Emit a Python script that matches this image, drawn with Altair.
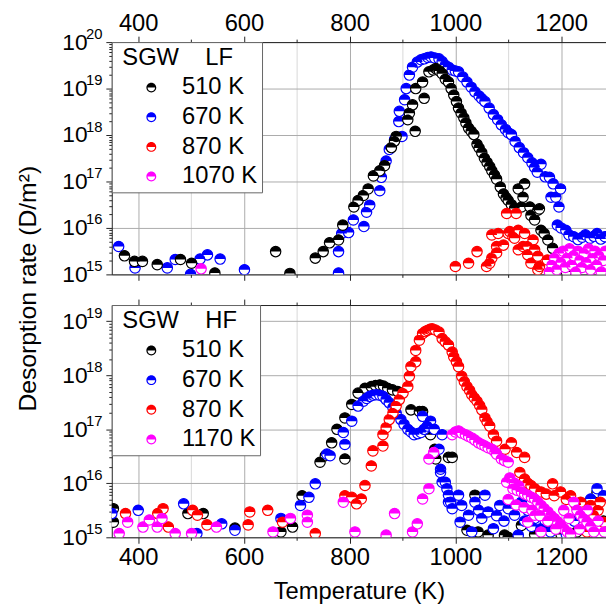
import altair as alt
import pandas as pd

FONT = "Liberation Sans"

# ---- data: (temperature K, log10 desorption rate D/m^2) ----
TOP_NAMES = ["510 K", "670 K", "870 K", "1070 K"]
BOT_NAMES = ["510 K", "670 K", "870 K", "1170 K"]
COLORS = ["#000000", "#0000ff", "#ff0000", "#ff00ff"]

LF_510 = [(374, 15.40), (393, 15.28), (408, 15.28), (436, 15.21), (480, 15.32), (501, 15.24), (545, 15.03),
          (660, 15.49), (687, 15.02), (735, 15.35), (750, 15.49), (762, 15.68), (779, 15.74), (787, 16.06),
          (808, 16.45), (816, 16.59), (826, 16.70), (835, 16.84), (845, 17.12), (857, 17.23), (866, 17.34),
          (879, 17.73), (885, 17.87), (888, 17.97), (910, 18.33), (913, 18.47), (919, 18.65), (924, 18.08),
          (925, 19.00), (938, 19.14), (941, 18.79), (950, 19.36), (958, 19.40), (963, 19.43), (970, 19.38),
          (975, 19.32), (981, 19.20), (987, 19.14), (992, 19.00), (997, 18.86), (1002, 18.72), (1006, 18.58),
          (1011, 18.47), (1016, 18.37), (1020, 18.26), (1025, 18.15), (1030, 18.08), (1035, 18.01),
          (1041, 17.80), (1045, 17.72), (1050, 17.62), (1055, 17.50), (1060, 17.41), (1065, 17.32),
          (1069, 17.23), (1074, 17.14), (1078, 17.05), (1085, 16.88), (1091, 16.73), (1096, 16.65),
          (1100, 16.59), (1106, 16.50), (1112, 16.42), (1119, 16.84), (1125, 16.45), (1128, 16.66),
          (1131, 16.95), (1141, 16.45), (1143, 16.27), (1150, 16.17), (1156, 16.38), (1159, 16.41),
          (1162, 15.95), (1168, 15.88), (1175, 15.74), (1184, 15.56), (1193, 15.39), (1200, 15.20),
          (1210, 15.05)]

LF_670 = [(363, 15.60), (394, 15.14), (455, 15.14), (470, 15.32), (499, 15.00), (517, 15.33), (531, 15.42),
          (555, 15.33), (601, 15.10), (779, 15.03), (779, 15.49), (785, 15.88), (798, 15.90), (807, 16.17),
          (827, 16.03), (832, 16.34), (838, 16.49), (857, 16.80), (860, 17.09), (869, 17.44), (875, 17.69),
          (885, 17.90), (899, 17.97), (893, 18.29), (894, 18.51), (904, 18.76), (907, 19.00), (913, 19.29),
          (919, 19.46), (928, 19.57), (935, 19.62), (941, 19.64), (948, 19.67), (954, 19.68), (961, 19.66),
          (969, 19.64), (975, 19.58), (981, 19.50), (987, 19.46), (994, 19.40), (1000, 19.38), (1006, 19.36),
          (1014, 19.25), (1022, 19.14), (1030, 19.03), (1037, 18.93), (1045, 18.84), (1050, 18.78),
          (1056, 18.72), (1064, 18.58), (1072, 18.44), (1080, 18.33), (1087, 18.22), (1095, 18.12),
          (1100, 18.05), (1106, 18.01), (1113, 17.86), (1121, 17.73), (1129, 17.62), (1137, 17.51),
          (1145, 17.40), (1150, 17.30), (1155, 17.20), (1162, 17.37), (1170, 17.10), (1178, 17.09),
          (1185, 16.95), (1181, 16.66), (1190, 16.66), (1199, 16.84), (1196, 16.45), (1193, 16.06),
          (1200, 16.00), (1209, 15.95), (1215, 15.85), (1224, 15.81), (1232, 15.75), (1240, 15.80),
          (1246, 15.85), (1255, 15.78), (1262, 15.82), (1268, 15.88), (1275, 15.76), (1283, 15.81)]

LF_870 = [(1000, 15.17), (1025, 15.24), (1041, 15.49), (1059, 15.17), (1065, 15.24), (1069, 15.35),
          (1069, 15.85), (1078, 15.60), (1078, 15.46), (1081, 15.88), (1091, 15.63), (1097, 16.31),
          (1100, 15.88), (1103, 15.92), (1109, 15.81), (1112, 15.78), (1115, 16.31), (1119, 15.95),
          (1119, 15.53), (1128, 15.60), (1131, 15.88), (1137, 15.60), (1137, 15.42), (1143, 15.24),
          (1147, 15.74), (1150, 15.53), (1156, 15.39), (1156, 15.10), (1159, 15.17), (1174, 15.31)]

LF_1070 = [(519, 15.12), (1178, 15.05), (1183, 15.20), (1188, 15.35), (1192, 15.10), (1196, 15.45),
           (1200, 15.25), (1204, 15.50), (1208, 15.15), (1212, 15.35), (1216, 15.55), (1220, 15.20),
           (1224, 15.40), (1228, 15.05), (1232, 15.50), (1236, 15.30), (1240, 15.15), (1244, 15.45),
           (1248, 15.25), (1252, 15.55), (1256, 15.10), (1260, 15.35), (1264, 15.50), (1268, 15.20),
           (1272, 15.40), (1276, 15.05), (1280, 15.30), (1284, 15.50)]

HF_510 = [(353, 15.53), (353, 15.28), (494, 15.44), (523, 15.44), (583, 15.17), (670, 15.10), (692, 15.19),
          (710, 15.77), (744, 16.39), (754, 16.51), (766, 16.75), (776, 17.00), (791, 17.21), (791, 16.45),
          (804, 17.46), (816, 17.67), (829, 17.76), (841, 17.79), (849, 17.81), (857, 17.82), (864, 17.80),
          (872, 17.76), (881, 17.73), (891, 17.70), (916, 17.36), (932, 17.33), (938, 17.33), (950, 16.94),
          (953, 16.90), (961, 16.63), (963, 16.45), (987, 16.48), (994, 16.48), (1022, 15.13), (1037, 15.78),
          (1043, 15.10), (1062, 15.04), (1093, 15.04), (1100, 15.00), (1125, 15.22), (1150, 15.05),
          (1175, 15.15), (1200, 15.05), (1230, 15.10), (1268, 15.83), (1280, 15.30)]

HF_670 = [(350, 15.44), (400, 15.50), (486, 15.62), (511, 15.07), (558, 15.25), (583, 15.13), (670, 15.35),
          (707, 15.59), (723, 15.74), (735, 15.99), (757, 16.54), (763, 16.51), (788, 16.94), (791, 16.72),
          (804, 17.15), (816, 17.43), (826, 17.52), (832, 17.57), (838, 17.61), (844, 17.63), (850, 17.64),
          (857, 17.63), (863, 17.61), (869, 17.55), (875, 17.49), (882, 17.40), (888, 17.30), (897, 17.18),
          (903, 17.09), (910, 17.00), (916, 16.95), (922, 16.90), (929, 16.92), (935, 16.94), (938, 17.24),
          (941, 17.00), (947, 17.06), (953, 17.15), (960, 17.00), (969, 16.63), (972, 16.20), (972, 16.26),
          (975, 16.90), (975, 16.02), (981, 16.02), (984, 15.90), (987, 15.65), (987, 15.78), (991, 15.65),
          (994, 15.53), (1006, 15.78), (1009, 15.28), (1012, 15.59), (1025, 15.41), (1031, 15.10),
          (1037, 15.65), (1044, 15.50), (1050, 15.35), (1056, 15.78), (1062, 15.47), (1072, 15.16),
          (1078, 15.40), (1084, 15.59), (1092, 15.30), (1100, 15.53), (1112, 15.41), (1119, 15.04),
          (1125, 15.65), (1131, 15.30), (1137, 15.50), (1144, 15.20), (1150, 15.35), (1162, 15.16),
          (1170, 15.30), (1180, 15.10), (1195, 15.20), (1210, 15.05), (1225, 15.30), (1240, 15.60),
          (1256, 15.71), (1268, 15.90), (1280, 15.77)]

HF_870 = [(376, 15.44), (437, 15.44), (447, 15.53), (457, 15.19), (503, 15.50), (512, 15.41), (530, 15.23),
          (608, 15.23), (611, 15.47), (645, 15.50), (673, 15.28), (735, 15.07), (791, 15.77), (804, 15.74),
          (813, 15.62), (822, 15.71), (829, 15.96), (841, 16.32), (844, 16.60), (863, 16.69), (863, 16.90),
          (869, 17.03), (875, 17.18), (882, 17.30), (888, 17.43), (894, 17.55), (901, 17.67), (910, 17.79),
          (913, 17.98), (916, 18.16), (925, 18.25), (925, 18.46), (932, 18.65), (938, 18.77), (943, 18.81),
          (947, 18.83), (952, 18.85), (956, 18.86), (962, 18.84), (969, 18.80), (975, 18.68), (981, 18.62),
          (987, 18.56), (994, 18.43), (997, 18.34), (1002, 18.25), (1006, 18.16), (1012, 17.98),
          (1017, 17.88), (1022, 17.79), (1027, 17.72), (1031, 17.64), (1036, 17.58), (1041, 17.52),
          (1046, 17.44), (1050, 17.36), (1056, 17.21), (1060, 17.14), (1065, 17.06), (1072, 16.90),
          (1078, 16.78), (1094, 16.63), (1106, 16.75), (1116, 16.57), (1122, 16.20), (1131, 16.48),
          (1131, 16.08), (1137, 16.00), (1143, 15.96), (1150, 15.90), (1162, 15.84), (1172, 15.80),
          (1184, 15.99), (1187, 15.77), (1199, 15.84), (1210, 15.70), (1218, 15.77), (1228, 15.60),
          (1237, 15.65), (1249, 15.10), (1256, 15.59), (1262, 15.41), (1270, 15.50), (1274, 15.65),
          (1280, 15.28)]

HF_1170 = [(364, 15.07), (380, 15.28), (409, 15.19), (421, 15.32), (436, 15.19), (445, 15.35), (470, 15.07),
           (501, 15.07), (548, 15.19), (655, 15.10), (688, 15.35), (720, 15.41), (720, 15.28), (788, 15.65),
           (810, 15.10), (869, 15.04), (885, 15.44), (919, 15.10), (928, 15.25), (938, 15.71), (950, 15.90),
           (950, 16.45), (959, 16.57), (994, 16.90), (1000, 16.95), (1006, 16.97), (1012, 16.93),
           (1019, 16.90), (1025, 16.87), (1031, 16.84), (1037, 16.80), (1044, 16.75), (1050, 16.72),
           (1056, 16.69), (1062, 16.66), (1069, 16.63), (1075, 16.58), (1078, 16.54), (1087, 16.45),
           (1093, 16.42), (1100, 16.39), (1097, 16.02), (1103, 16.10), (1109, 15.90), (1112, 16.00),
           (1117, 15.87), (1120, 15.95), (1125, 15.84), (1131, 15.80), (1137, 15.78), (1137, 15.28),
           (1144, 15.74), (1150, 15.71), (1150, 15.41), (1156, 15.65), (1162, 15.59), (1162, 15.10),
           (1168, 15.53), (1175, 15.47), (1181, 15.40), (1187, 15.35), (1193, 15.29), (1199, 15.23),
           (1205, 15.16), (1212, 15.10), (1218, 15.05), (1100, 15.70), (1115, 15.60), (1130, 15.55),
           (1145, 15.50), (1160, 15.40), (1175, 15.30), (1190, 15.15), (1205, 15.50), (1215, 15.35),
           (1224, 15.65), (1230, 15.50), (1237, 15.41), (1243, 15.35), (1249, 15.28), (1256, 15.20),
           (1262, 15.10), (1235, 15.15), (1250, 15.50), (1270, 15.30), (1282, 15.10)]

TOP_DATA = [LF_510, LF_670, LF_870, LF_1070]
BOT_DATA = [HF_510, HF_670, HF_870, HF_1170]

# tick values
X_MAJOR = [400, 600, 800, 1000, 1200]
X_MINOR = [500, 700, 900, 1100]
TOP_DECADES = [1e15, 1e16, 1e17, 1e18, 1e19, 1e20]
BOT_DECADES = [1e15, 1e16, 1e17, 1e18, 1e19]

HALF = "M-1,0A1,1 0 0,1 1,0Z"
LEG_SYM = "M-1,0A1,1 0 0,1 1,0A1,1 0 0,1 -1,0L-0.76,0A0.76,0.76 0 0,0 0.76,0Z"
SIZE = 110
AX = "#222222"
GRID_MAJ = "#ababab"
GRID_MIN = "#d8d8d8"


def frame(names, data):
    rows = []
    for name, pts in zip(names, data):
        for t, l in pts:
            rows.append({"T": t, "rate": 10.0 ** l, "series": name})
    return pd.DataFrame(rows)


def minor_vals(decades):
    out = []
    for d in decades[:-1]:
        for k in range(2, 10):
            out.append(k * d)
    return out


def panel(names, data, order, ydomain, decades, legend_title, top_labels, bottom_labels, ytitle):
    df = frame(names, data)
    xscale = alt.Scale(domain=[350, 1285], nice=False, zero=False)
    yscale = alt.Scale(type="log", domain=ydomain, nice=False)
    cscale = alt.Scale(domain=names, range=COLORS)

    common = dict(labelFont=FONT, labelColor="black", labelFlush=False, labelOverlap=False,
                  titleFont=FONT, titleColor="black", titleFontWeight="normal")
    xa = [
        alt.Axis(orient="bottom", values=X_MAJOR, format="d", grid=True, gridColor=GRID_MAJ, ticks=True,
                 tickSize=6, tickColor=AX, domain=True, domainColor=AX, labels=bottom_labels,
                 labelFontSize=24, labelPadding=3,
                 title="Temperature (K)" if bottom_labels else None, titleFontSize=24,
                 titlePadding=10, **common),
        alt.Axis(orient="bottom", values=X_MINOR, grid=True, gridColor=GRID_MIN, ticks=True, tickSize=3,
                 tickColor=AX, domain=False, labels=False, title=None, **common),
        alt.Axis(orient="top", values=X_MAJOR, format="d", grid=False, ticks=True, tickSize=6,
                 tickColor=AX, domain=True, domainColor=AX, labels=top_labels, labelFontSize=24,
                 labelPadding=1, title=None, **common),
        alt.Axis(orient="top", values=X_MINOR, grid=False, ticks=True, tickSize=3, tickColor=AX,
                 domain=False, labels=False, title=None, **common),
    ]
    ya = [
        alt.Axis(orient="left", values=decades, grid=True, gridColor=GRID_MAJ, ticks=False, tickSize=0,
                 domain=True, domainColor=AX, labelExpr="'10'", labelFontSize=23, labelPadding=25,
                 labelBaseline="middle",
                 title="Desorption rate (D/m\u00b2)" if ytitle else None, titleFontSize=25,
                 titleAngle=270, titleX=-85, titleY=249, titleAlign="center", titleBaseline="middle",
                 **common),
        alt.Axis(orient="left", values=decades, grid=False, ticks=False, tickSize=0, domain=False,
                 labelExpr="'' + round(log(datum.value) / LN10)", labelFontSize=15, labelPadding=10,
                 labelOffset=-9, title=None, **common),
        alt.Axis(orient="left", values=decades, grid=False, ticks=True, tickSize=6, tickColor=AX,
                 domain=False, labels=False, title=None, **common),
        alt.Axis(orient="left", values=minor_vals(decades), grid=False, ticks=True, tickSize=3,
                 tickColor=AX, domain=False, labels=False, title=None, **common),
    ]
    legend = alt.Legend(title=legend_title, orient="top-left", offset=0, symbolType=LEG_SYM,
                        symbolSize=100, symbolStrokeWidth=0, symbolOpacity=1, symbolOffset=24,
                        labelOffset=19, labelFont=FONT, labelFontSize=24, labelColor="black",
                        titleFont=FONT, titleFontSize=24, titleFontWeight="normal", titleColor="black",
                        titlePadding=6, rowPadding=6, padding=4, strokeColor="#666666",
                        fillColor="white")

    layers = []
    for i, idx in enumerate(order):
        name, color = names[idx], COLORS[idx]
        base = alt.Chart(df[df.series == name])
        circ = base.mark_point(shape="circle", filled=False, fill="white", fillOpacity=1, stroke=color,
                               strokeWidth=1.2, size=SIZE, opacity=1, clip=True).encode(
            x=alt.X("T:Q", scale=xscale, axis=xa[i]),
            y=alt.Y("rate:Q", scale=yscale, axis=ya[i]),
        )
        half = base.mark_point(shape=HALF, filled=True, size=SIZE, opacity=1, strokeWidth=0,
                               clip=True).encode(
            x=alt.X("T:Q", scale=xscale, axis=None),
            y=alt.Y("rate:Q", scale=yscale, axis=None),
            color=alt.Color("series:N", scale=cscale, legend=legend),
        )
        layers += [circ, half]
    return alt.layer(*layers).resolve_axis(x="independent", y="independent").properties(
        width=500, height=235)


NB = "\u00a0"
ZW = "\u200b"
top = panel(TOP_NAMES, TOP_DATA, [1, 0, 2, 3], [1e15, 1e20], TOP_DECADES,
            ZW + NB + "SGW" + NB * 4 + "LF", True, False, True)
bottom = panel(BOT_NAMES, BOT_DATA, [0, 1, 2, 3], [1e15, 2e19], BOT_DECADES,
               ZW + NB + "SGW" + NB * 4 + "HF", False, True, False)

chart = alt.vconcat(top, bottom, spacing=31, bounds="flush").resolve_scale(
    color="independent").resolve_legend(color="independent").configure_view(
    strokeWidth=0).properties(padding={"left": 8, "top": 0, "right": 0, "bottom": 0})

chart.save("out.html", embed_options={"renderer": "svg", "actions": False})
